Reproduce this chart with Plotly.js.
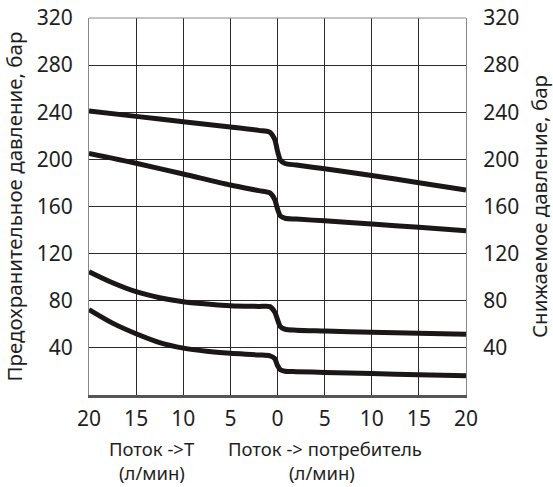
<!DOCTYPE html>
<html>
<head>
<meta charset="utf-8">
<script src="https://cdn.plot.ly/plotly-3.0.1.min.js"></script>
<style>html,body{margin:0;padding:0;background:#fff;}#chart{width:553px;height:487px;}</style>
</head>
<body>
<div id="chart"></div>
<script>
// Flow (l/min): negative = flow to tank (T), positive = flow to consumer
const flowA = [-20, -15, -10, -5, -2, -0.8, -0.3, 0, 0.3, 0.8, 2, 5, 10, 15, 20];
const curve1 = [241, 236.5, 232, 227.5, 224.6, 223, 217, 207, 199.5, 196.5, 195.2, 192, 186.3, 180.2, 174];
const curve2 = [205, 196.7, 187.6, 178.3, 173.5, 171.5, 166, 158, 152, 150, 149.3, 147.8, 145.1, 142.3, 139.5];

const flowB = [-20, -17.5, -15, -12.5, -10, -7.5, -5, -2, -0.8, -0.3, 0, 0.3, 0.8, 2, 5, 10, 15, 20];
const curve3 = [104.7, 95.3, 87.7, 82.6, 79.2, 77.3, 75.8, 75.2, 75, 70.5, 64, 58, 55.8, 55, 54.3, 53.2, 52.4, 51.5];
const curve4 = [72.5, 61, 52, 44.5, 39.8, 37.1, 35.4, 34, 33.2, 31, 25, 21.5, 20.2, 19.8, 19.2, 18.2, 17.2, 16.4];

const xTickVals = [-20, -15, -10, -5, 0, 5, 10, 15, 20];
const xTickText = ['20', '15', '10', '5', '0', '5', '10', '15', '20'];
const yTickVals = [40, 80, 120, 160, 200, 240, 280, 320];

const leftTitle = 'Предохранительное давление, бар';
const rightTitle = 'Снижаемое давление, бар';
const xTitleLeft = ['Поток ->T', '(л/мин)'];
const xTitleRight = ['Поток -> потребитель', '(л/мин)'];

const lineStyle = {color: '#1b1717', width: 5, shape: 'spline', smoothing: 0.8};
const traces = [
  {x: flowA, y: curve1, mode: 'lines', line: lineStyle, hoverinfo: 'skip'},
  {x: flowA, y: curve2, mode: 'lines', line: lineStyle, hoverinfo: 'skip'},
  {x: flowB, y: curve3, mode: 'lines', line: lineStyle, hoverinfo: 'skip'},
  {x: flowB, y: curve4, mode: 'lines', line: lineStyle, hoverinfo: 'skip'},
  {x: [0], y: [0], yaxis: 'y2', mode: 'markers', marker: {opacity: 0}, hoverinfo: 'skip'}
];

const FONT = 'Noto Sans, sans-serif';
const TXT = '#1e1e1e';
const TICK = 21, YT = 20.5, XT = 18.5;
const layout = {
  width: 553, height: 487,
  margin: {l: 89, r: 87, t: 18, b: 92},
  paper_bgcolor: '#fff', plot_bgcolor: '#fff',
  showlegend: false,
  font: {family: FONT, color: TXT},
  xaxis: {
    range: [-20, 20], tickvals: xTickVals, ticktext: xTickText,
    showgrid: true, gridcolor: '#2a2a2a', gridwidth: 1,
    zeroline: false, showline: true, linecolor: '#555', linewidth: 2.5,
    ticks: '', tickfont: {size: TICK, family: FONT, color: TXT},
    ticklabelstandoff: 3
  },
  yaxis: {
    range: [0, 320], tickvals: yTickVals,
    showgrid: true, gridcolor: '#2a2a2a', gridwidth: 1,
    zeroline: false, showline: true, linecolor: '#888', linewidth: 1,
    ticks: '', tickfont: {size: TICK, family: FONT, color: TXT},
    ticklabelstandoff: 11,
    title: {text: leftTitle, font: {size: YT, family: FONT, color: TXT}, standoff: 12}
  },
  yaxis2: {
    range: [0, 320], tickvals: yTickVals, overlaying: 'y', side: 'right',
    showgrid: false, zeroline: false, showline: true, linecolor: '#888', linewidth: 1,
    ticks: '', tickfont: {size: TICK, family: FONT, color: TXT},
    ticklabelstandoff: 12,
    title: {text: rightTitle, font: {size: YT, family: FONT, color: TXT}, standoff: 16}
  },
  shapes: [
    {type: 'line', xref: 'paper', yref: 'paper', x0: 0, x1: 1, y0: 1, y1: 1, line: {color: '#888', width: 1}}
  ],
  annotations: [
    {text: xTitleLeft[0], xref: 'paper', yref: 'paper', x: 0.167, y: -0.1406, yanchor: 'middle', xanchor: 'center', showarrow: false, font: {size: XT, family: FONT, color: TXT}},
    {text: xTitleLeft[1], xref: 'paper', yref: 'paper', x: 0.167, y: -0.206, yanchor: 'middle', xanchor: 'center', showarrow: false, font: {size: XT, family: FONT, color: TXT}},
    {text: xTitleRight[0], xref: 'paper', yref: 'paper', x: 0.625, y: -0.1406, yanchor: 'middle', xanchor: 'center', showarrow: false, font: {size: XT, family: FONT, color: TXT}},
    {text: xTitleRight[1], xref: 'paper', yref: 'paper', x: 0.618, y: -0.206, yanchor: 'middle', xanchor: 'center', showarrow: false, font: {size: XT, family: FONT, color: TXT}}
  ]
};

Plotly.newPlot('chart', traces, layout, {staticPlot: true, displayModeBar: false});
</script>
</body>
</html>
